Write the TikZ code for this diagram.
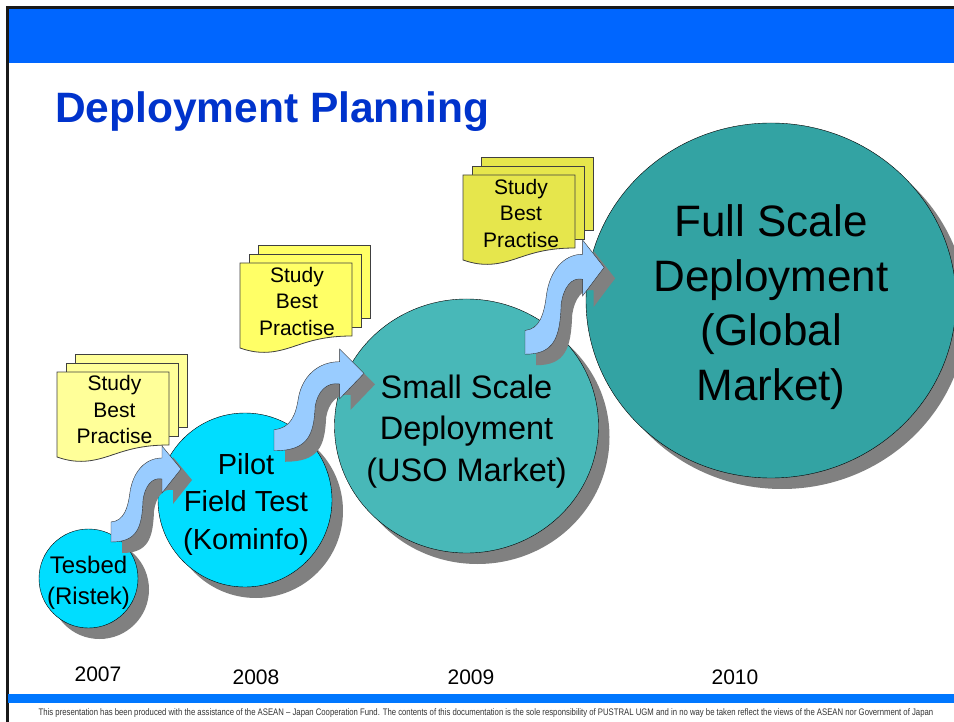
\documentclass[tikz,border=0pt]{standalone}
\usepackage{fontspec}
\setmainfont{Liberation Sans}
\usetikzlibrary{shapes,shadows}
\definecolor{headBlue}{HTML}{0066FF}
\definecolor{footBlue}{HTML}{0077FF}
\definecolor{titleBlue}{HTML}{0033CC}
\definecolor{pilotCyan}{HTML}{00DDFF}
\definecolor{smallTeal}{HTML}{48B8B8}
\definecolor{fullTeal}{HTML}{33A3A3}
\definecolor{arrowBlue}{HTML}{99CCFF}
\definecolor{paleYellow}{HTML}{FFFF99}
\definecolor{midYellow}{HTML}{FFFF66}
\definecolor{darkYellow}{HTML}{E6E64C}
\tikzstyle{stage} = [ellipse, draw=black, inner sep=0pt,
drop shadow={shadow xshift=11pt, shadow yshift=-11pt, fill=black!50, opacity=1}]
\tikzstyle{stageText} = [align=center, text=black, inner sep=0pt]
\tikzstyle{year} = [font=\fontsize{21}{21}\selectfont, text=black]
\tikzstyle{docText} = [font=\fontsize{21}{26.5}\selectfont, align=center, text=black]
\tikzstyle{sheet} = [draw=black!75, line width=0.8pt]
\tikzset{
docStack/.pic={
	\path[sheet, fill=docFill] (18,-18) rectangle (130,55);
	\path[sheet, fill=docFill] (9,-9) rectangle (121,64);
	\path[sheet, fill=docFill] (0,0) -- (112,0) -- (112,73) .. controls (85,73) and (70,78) .. (55,83)
		.. controls (35,90) and (20,92) .. (0,85) -- cycle;
},
bendArrow/.pic={
	\path[pic actions] (0,76) .. controls (13,75) and (17,62) .. (19,46) .. controls (22,26) and (34,12) .. (51,12)
		-- (51,0) -- (70,23) -- (51,47) -- (51,33) .. controls (41,31) and (34,40) .. (32,54)
		.. controls (31,82) and (26,96) .. (0,96) -- cycle;
}}
\begin{document}
\begin{tikzpicture}[x=1pt,y=-1pt]
	\useasboundingbox (0,0) rectangle (954,722);
	%frame and bars
	\fill[white] (0,0) rectangle (954,722);
	\fill[headBlue] (8,8) rectangle (954,63);
	\draw[black!90, line width=3pt] (7,722) -- (7,7.5) -- (954,7.5);
	\fill[footBlue] (8,694) rectangle (954,703);
	\node[anchor=west, font=\bfseries\fontsize{42.5}{42.5}\selectfont, text=titleBlue, inner sep=0pt] (title) at (55,112) {Deployment Planning};
	%stages
	\node[stage, fill=fullTeal, minimum width=370pt, minimum height=355pt] (full) at (771,300.5) {};
	\node[stage, fill=smallTeal, minimum width=264pt, minimum height=254pt] (small) at (466.5,426) {};
	\node[stage, fill=pilotCyan, minimum width=174pt, minimum height=174pt] (pilot) at (245,500) {};
	\node[stage, fill=pilotCyan, minimum width=99pt, minimum height=99pt] (tesbed) at (88.5,578.5) {};
	%arrows
	\foreach \ax/\ay/\sx/\sy in {111/446/1/1, 274/349/1.286/1.06, 525/240/1.13/1.19} {
		\pic[fill=black!50, xscale=\sx, yscale=\sy] at (\ax+11,\ay+11) {bendArrow};
		\pic[fill=arrowBlue, draw=black!80, xscale=\sx, yscale=\sy] at (\ax,\ay) {bendArrow};
	}
	%stage texts
	\node[stageText, font=\fontsize{44}{54.5}\selectfont] (fullText) at ([yshift=-6.5pt]full.center) {Full Scale\\Deployment\\(Global\\Market)};
	\node[stageText, font=\fontsize{32.5}{41.5}\selectfont] (smallText) at ([yshift=-5.5pt]small.center) {Small Scale\\Deployment\\(USO Market)};
	\node[stageText, font=\fontsize{29}{37.5}\selectfont] (pilotText) at ([xshift=1pt,yshift=-4pt]pilot.center) {Pilot\\Field Test\\(Kominfo)};
	\node[stageText, font=\fontsize{24}{31}\selectfont] (tesbedText) at ([yshift=-4pt]tesbed.center) {Tesbed\\(Ristek)};
	%documents
	\colorlet{docFill}{paleYellow}
	\pic at (57,372) {docStack};
	\node[docText] (studyA) at (114.5,409.5) {Study\\Best\\Practise};
	\colorlet{docFill}{midYellow}
	\pic at (240,263) {docStack};
	\node[docText] (studyB) at (297,301) {Study\\Best\\Practise};
	\colorlet{docFill}{darkYellow}
	\pic at (463,175) {docStack};
	\node[docText] (studyC) at (521,213) {Study\\Best\\Practise};
	%years
	\node[year] (y2007) at (98,674) {2007};
	\node[year] (y2008) at (256,677) {2008};
	\node[year] (y2009) at (471,677) {2009};
	\node[year] (y2010) at (735,677) {2010};
	%footer
	\node[font=\fontsize{9.5}{9.5}\selectfont, text=black!80, xscale=0.815] (note) at (486,713) {This presentation has been produced with the assistance of the ASEAN – Japan Cooperation Fund. The contents of this documentation is the sole responsibility of PUSTRAL UGM and in no way be taken reflect the views of the ASEAN nor Government of Japan};
\end{tikzpicture}
\end{document}
